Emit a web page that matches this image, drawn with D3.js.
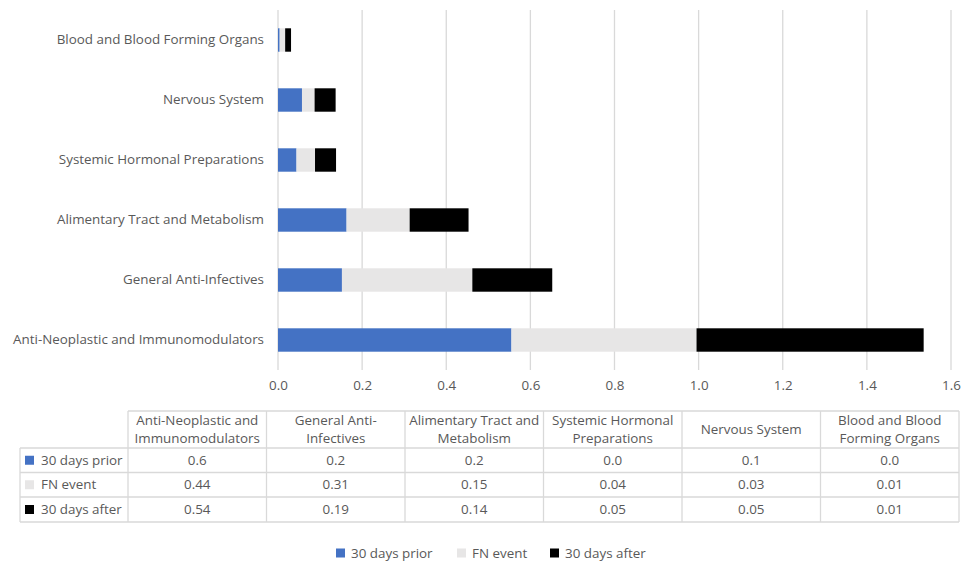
<!DOCTYPE html>
<html lang="en">
<head>
<meta charset="UTF-8">
<title>FN stacked bars</title>
<style>
    body { margin: 0; background: #fff; }
    svg text { font-family: "Open Sans", "Noto Sans", sans-serif; fill: #595959; }
</style>
</head>
<body>
<script src="https://cdn.jsdelivr.net/npm/d3@7/dist/d3.min.js"></script>
<script>
// categories, first one sits at the bottom of the chart / first table column
var categories = ["Anti-Neoplastic and Immunomodulators", "General Anti-Infectives",
    "Alimentary Tract and Metabolism", "Systemic Hormonal Preparations",
    "Nervous System", "Blood and Blood Forming Organs"];
var headerLines = [["Anti-Neoplastic and", "Immunomodulators"], ["General Anti-", "Infectives"],
    ["Alimentary Tract and", "Metabolism"], ["Systemic Hormonal", "Preparations"],
    ["Nervous System"], ["Blood and Blood", "Forming Organs"]];
var seriesNames = ["30 days prior", "FN event", "30 days after"];
var prior = [0.555, 0.152, 0.163, 0.044, 0.057, 0.004];
var fnEvent = [0.44, 0.31, 0.15, 0.044, 0.03, 0.013];
var after = [0.54, 0.19, 0.14, 0.05, 0.05, 0.014];
var decimals = [1, 2, 2];
var xTicks = [0, 0.2, 0.4, 0.6, 0.8, 1.0, 1.2, 1.4, 1.6];
var colors = ["#4472C4", "#E7E6E6", "#000000"];

var W = 962, H = 564;
var fs = 13.4;
var svg = d3.select("body").append("svg").attr("width", W).attr("height", H);

var rows = categories.map(function (c, i) {
    return { cat: c, "30 days prior": prior[i], "FN event": fnEvent[i], "30 days after": after[i] };
});
var stacked = d3.stack().keys(seriesNames)(rows);

var x = d3.scaleLinear().domain([0, 1.6]).range([278, 951]);
var y = d3.scaleBand().domain(categories).range([370, 10]).paddingInner(0.61).paddingOuter(0.305);

// gridlines
svg.append("g").selectAll("line").data(xTicks).enter().append("line")
    .attr("x1", function (d) { return x(d); })
    .attr("x2", function (d) { return x(d); })
    .attr("y1", 10).attr("y2", 370)
    .attr("stroke", "#D9D9D9").attr("stroke-width", 1.3);

// bars
svg.append("g").selectAll("g").data(stacked).enter().append("g")
    .attr("fill", function (d, i) { return colors[i]; })
    .selectAll("rect").data(function (d) { return d; }).enter().append("rect")
    .attr("x", function (d) { return x(d[0]); })
    .attr("y", function (d) { return y(d.data.cat); })
    .attr("width", function (d) { return x(d[1]) - x(d[0]); })
    .attr("height", y.bandwidth());

// x axis labels
var xAxis = d3.axisBottom(x).tickValues(xTicks).tickFormat(d3.format(".1f")).tickSize(0).tickPadding(8);
var gx = svg.append("g").attr("transform", "translate(0,372)").call(xAxis);
gx.select(".domain").remove();
gx.selectAll("text").attr("font-size", fs).attr("fill", "#595959");

// category labels
var yAxis = d3.axisLeft(y).tickSize(0).tickPadding(14);
var gy = svg.append("g").attr("transform", "translate(278,0)").call(yAxis);
gy.select(".domain").remove();
gy.selectAll("text").attr("font-size", fs).attr("fill", "#595959");

// data table
var tx = d3.scaleBand().domain(categories).range([128, 959]);
var rowY = [448, 472.5, 497, 522];
var tbl = svg.append("g").attr("stroke", "#D9D9D9").attr("stroke-width", 1.3);
// horizontal lines
tbl.append("line").attr("x1", 128).attr("x2", 959).attr("y1", 411).attr("y2", 411);
rowY.forEach(function (yy) {
    tbl.append("line").attr("x1", 20).attr("x2", 959).attr("y1", yy).attr("y2", yy);
});
// vertical lines
tbl.append("line").attr("x1", 20).attr("x2", 20).attr("y1", 448).attr("y2", 522);
categories.forEach(function (c) {
    tbl.append("line").attr("x1", tx(c)).attr("x2", tx(c)).attr("y1", 411).attr("y2", 522);
});
tbl.append("line").attr("x1", 959).attr("x2", 959).attr("y1", 411).attr("y2", 522);

// header text
categories.forEach(function (c, i) {
    var lines = headerLines[i];
    var cx = tx(c) + tx.bandwidth() / 2;
    lines.forEach(function (ln, j) {
        var yy = lines.length === 1 ? 434 : 425 + j * 18;
        svg.append("text").attr("x", cx).attr("y", yy).attr("text-anchor", "middle")
            .attr("font-size", fs).text(ln);
    });
});

// row labels and values
var seriesValues = [prior, fnEvent, after];
seriesNames.forEach(function (s, r) {
    var cy = (rowY[r] + rowY[r + 1]) / 2;
    svg.append("rect").attr("x", 25).attr("y", cy - 4.5).attr("width", 9).attr("height", 9).attr("fill", colors[r]);
    svg.append("text").attr("x", 41).attr("y", cy + 4.5).attr("font-size", fs).text(s);
    var fmt = d3.format("." + decimals[r] + "f");
    categories.forEach(function (c, i) {
        svg.append("text").attr("x", tx(c) + tx.bandwidth() / 2).attr("y", cy + 4.5)
            .attr("text-anchor", "middle").attr("font-size", fs).text(fmt(seriesValues[r][i]));
    });
});

// legend
var legX = [336, 457, 550];
seriesNames.forEach(function (s, i) {
    svg.append("rect").attr("x", legX[i]).attr("y", 548.5).attr("width", 9).attr("height", 9).attr("fill", colors[i]);
    svg.append("text").attr("x", legX[i] + 15).attr("y", 557.5).attr("font-size", fs).text(s);
});
</script>
</body>
</html>
